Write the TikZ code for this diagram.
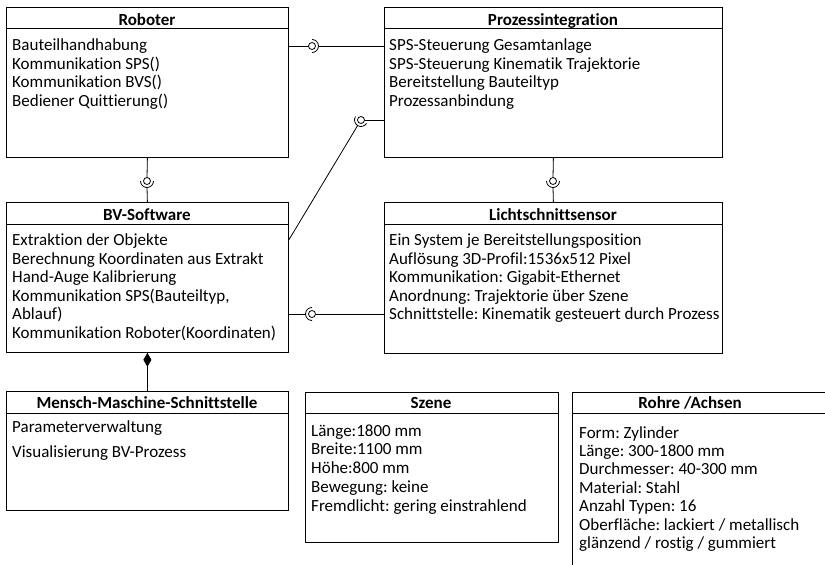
\documentclass[tikz,border=0pt]{standalone}
\usepackage{fontspec}
\setmainfont{Carlito}[Ligatures=NoCommon]
\frenchspacing
\usetikzlibrary{calc,arrows.meta}
\tikzset{
  ln/.style={line width=0.8pt, black},
  txt/.style={anchor=base west, inner sep=0pt, font=\fontsize{17}{20}\selectfont},
  ttl/.style={anchor=base, inner sep=0pt, font=\bfseries\fontsize{17}{20}\selectfont},
  boxr/.style={draw, line width=0.8pt, inner sep=0pt, anchor=north west},
}
\begin{document}
\begin{tikzpicture}[x=1pt,y=-1pt]
\useasboundingbox (0,0) rectangle (825,565);

% Boxes
\node[boxr, minimum width=282pt, minimum height=150pt] (rob) at (6,7) {};
\node[boxr, minimum width=338pt, minimum height=150pt] (pro) at (384,7) {};
\node[boxr, minimum width=282pt, minimum height=150pt] (bv) at (6,202) {};
\node[boxr, minimum width=338pt, minimum height=151pt] (lic) at (384,202) {};
\node[boxr, minimum width=282pt, minimum height=119pt] (mms) at (6,391) {};
\node[boxr, minimum width=253pt, minimum height=150pt] (sze) at (305,392) {};
\coordinate (roh) at (572,392);
\draw[ln] (825,392) -- (roh) -- (572,565);

% Separators
\draw[ln] ([yshift=-21pt]rob.north west) -- ([yshift=-21pt]rob.north east);
\draw[ln] ([yshift=-21pt]pro.north west) -- ([yshift=-21pt]pro.north east);
\draw[ln] ([yshift=-22pt]bv.north west) -- ([yshift=-22pt]bv.north east);
\draw[ln] ([yshift=-22pt]lic.north west) -- ([yshift=-22pt]lic.north east);
\draw[ln] ([yshift=-22pt]mms.north west) -- ([yshift=-22pt]mms.north east);
\draw[ln] ([yshift=-21pt]sze.north west) -- ([yshift=-21pt]sze.north east);
\draw[ln] (572,413) -- (825,413);

% Titles
\node[ttl] (rob-t) at (147,25) {Roboter};
\node[ttl] (pro-t) at (553,25) {Prozessintegration};
\node[ttl] (bv-t) at (147,220.5) {BV-Software};
\node[ttl] (lic-t) at (553,220.5) {Lichtschnittsensor};
\node[ttl] (mms-t) at (147,408) {Mensch-Maschine-Schnittstelle};
\node[ttl] (sze-t) at (431,408.5) {Szene};
\node[ttl] (roh-t) at (690,408.5) {Rohre /Achsen};

% Texts
\foreach \t [count=\i] in {Bauteilhandhabung,Kommunikation SPS(),Kommunikation BVS(),Bediener Quittierung()}
  \node[txt] (rob-\i) at (12,{50.5+(\i-1)*18.6}) {\t};
\foreach \t [count=\i] in {SPS-Steuerung Gesamtanlage,SPS-Steuerung Kinematik Trajektorie,Bereitstellung Bauteiltyp,Prozessanbindung}
  \node[txt] (pro-\i) at (389,{50.5+(\i-1)*18.6}) {\t};
\foreach \t [count=\i] in {Extraktion der Objekte,Berechnung Koordinaten aus Extrakt,Hand-Auge Kalibrierung,{Kommunikation SPS(Bauteiltyp,},Ablauf),Kommunikation Roboter(Koordinaten)}
  \node[txt] (bv-\i) at (12,{245.5+(\i-1)*18.6}) {\t};
\foreach \t [count=\i] in {Ein System je Bereitstellungsposition,Auflösung 3D-Profil:1536x512 Pixel,Kommunikation: Gigabit-Ethernet,Anordnung: Trajektorie über Szene,Schnittstelle: Kinematik gesteuert durch Prozess}
  \node[txt] (lic-\i) at (389,{245.5+(\i-1)*18.6}) {\t};
\node[txt] (mms-1) at (12,432.5) {Parameterverwaltung};
\node[txt] (mms-2) at (12,457.5) {Visualisierung BV-Prozess};
\foreach \t [count=\i] in {Länge:1800 mm,Breite:1100 mm,Höhe:800 mm,Bewegung: keine,Fremdlicht: gering einstrahlend}
  \node[txt] (sze-\i) at (311,{436+(\i-1)*18.8}) {\t};
\foreach \t [count=\i] in {Form: Zylinder,Länge: 300-1800 mm,Durchmesser: 40-300 mm,Material: Stahl,Anzahl Typen: 16,Oberfläche: lackiert / metallisch,glänzend / rostig / gummiert}
  \node[txt] (roh-\i) at (579,{438+(\i-1)*18.4}) {\t};

% Connector 1: Roboter - Prozessintegration
\coordinate (b1) at (312,46);
\draw[ln] (rob.east |- b1) -- ($(b1)+(-3.5,0)$);
\draw[ln] (b1) circle (3.5);
\draw[ln] ($(b1)+(-90:6.5)$) arc (-90:90:6.5);
\draw[ln] ($(b1)+(6.5,0)$) -- (pro.west |- b1);

% Connector 2: Roboter - BV-Software
\coordinate (b2) at (147,181);
\draw[ln] (rob.south) -- ($(b2)+(0,-3.5)$);
\draw[ln] (b2) circle (3.5);
\draw[ln] ($(b2)+(0:6.5)$) arc (0:180:6.5);
\draw[ln] ($(b2)+(0,6.5)$) -- (bv.north);

% Connector 3: Prozessintegration - Lichtschnittsensor
\coordinate (b3) at (553,181);
\draw[ln] (pro.south) -- ($(b3)+(0,-3.5)$);
\draw[ln] (b3) circle (3.5);
\draw[ln] ($(b3)+(0:6.5)$) arc (0:180:6.5);
\draw[ln] ($(b3)+(0,6.5)$) -- (lic.north);

% Connector 4: BV-Software - Lichtschnittsensor
\coordinate (b4) at (312,314);
\draw[ln] (bv.east |- b4) -- ($(b4)+(-6.5,0)$);
\draw[ln] ($(b4)+(90:6.5)$) arc (90:270:6.5);
\draw[ln] (b4) circle (3.5);
\draw[ln] ($(b4)+(3.5,0)$) -- (lic.west |- b4);

% Connector 5: BV-Software - Prozessintegration (diagonal)
\coordinate (b5) at (361,120);
\coordinate (d5) at ($(bv.north east)+(0,38)$);
\draw[ln] (b5) circle (3.5);
\draw[ln] ($(b5)+(31.3:6.5)$) arc (31.3:211.3:6.5);
\draw[ln] ($(b5)+(121.3:6.5)$) -- (d5);
\draw[ln] ($(b5)+(3.5,0)$) -- (pro.west |- b5);

% Composition: BV-Software - MMS
\draw[ln, {Diamond[length=14pt,width=8pt]}-] (bv.south) -- (mms.north);
\end{tikzpicture}
\end{document}
